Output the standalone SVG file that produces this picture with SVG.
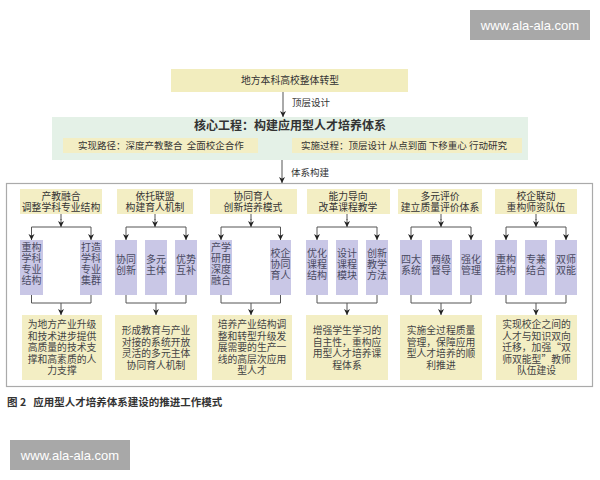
<svg xmlns="http://www.w3.org/2000/svg" width="600" height="480" viewBox="0 0 600 480">
<style>
text{font-family:"Noto Sans CJK SC","Noto Sans",sans-serif;fill:#333;text-anchor:middle}
.y{fill:#f3eec4}
.p{fill:#c9c7e6}
.ln{stroke:#555;stroke-width:1;fill:none}
.h{font-size:9.8px}
.s{font-size:10px;fill:#4a4a62}
.r{font-size:9.8px;fill:#444}
.lb{font-size:9.5px;text-anchor:start}
.cap{font-size:10.5px;font-weight:bold;text-anchor:start}
.wm{font-family:"Liberation Sans",Arial,sans-serif;font-size:13px;fill:#fff}
</style>
<defs>
<marker id="a" viewBox="0 0 10 10" refX="10" refY="5" markerWidth="6" markerHeight="7" markerUnits="userSpaceOnUse" orient="auto">
<path d="M0,0 L10,5 L0,10 L3,5 z" fill="#222"/>
</marker>
</defs>
<rect width="600" height="480" fill="#fff"/>
<g id="watermark-top"><rect x="470" y="10" width="120" height="30" fill="#a8a8a8"/><text class="wm" x="530" y="29.5">www.ala-ala.com</text></g>
<g id="watermark-bottom"><rect x="10" y="440" width="120" height="30" fill="#a8a8a8"/><text class="wm" x="70" y="459.5">www.ala-ala.com</text></g>

<g id="top"><rect x="171" y="69" width="237" height="23" fill="#f2edbe"/><text x="290" y="84" font-size="9.8">地方本科高校整体转型</text></g>

<g id="core">
<rect x="52" y="117" width="476" height="43" fill="#e4f1e7"/>
<text x="290" y="129.5" font-size="12" font-weight="bold">核心工程：构建应用型人才培养体系</text>
<rect class="y" x="63" y="138" width="195" height="15"/>
<text x="161" y="149" font-size="9.5" xml:space="preserve">实现路径：深度产教整合  全面校企合作</text>
<rect class="y" x="292" y="138" width="230" height="15"/>
<text x="404" y="149" font-size="9.5" xml:space="preserve">实施过程：顶层设计 从点到面 下移重心 行动研究</text>
</g>

<g id="frame"><rect x="6.5" y="183.5" width="586" height="203" fill="#fff" stroke="#aaa" stroke-width="1.2"/></g>

<g id="col1">
<rect class="y" x="20" y="189" width="82" height="25"/>
<text class="h" x="61" y="200">产教融合<tspan x="61" dy="11">调整学科专业结构</tspan></text>
<rect class="p" x="20" y="240" width="23" height="55"/>
<text class="s" x="31.5" y="251">重构<tspan x="31.5" dy="11">学科</tspan><tspan x="31.5" dy="11">专业</tspan><tspan x="31.5" dy="11">结构</tspan></text>
<rect class="p" x="80" y="240" width="22" height="55"/>
<text class="s" x="91" y="251">打造<tspan x="91" dy="11">学科</tspan><tspan x="91" dy="11">专业</tspan><tspan x="91" dy="11">集群</tspan></text>
<rect class="y" x="22" y="315" width="80" height="65"/>
<text class="r" x="62" y="328">为地方产业升级<tspan x="62" dy="11.5">和技术进步提供</tspan><tspan x="62" dy="11.5">高质量的技术支</tspan><tspan x="62" dy="11.5">撑和高素质的人</tspan><tspan x="62" dy="11.5">力支撑</tspan></text>
</g>

<g id="col2">
<rect class="y" x="117" y="189" width="76" height="25"/>
<text class="h" x="155" y="200">依托联盟<tspan x="155" dy="11">构建育人机制</tspan></text>
<rect class="p" x="115" y="240" width="22" height="55"/>
<text class="s" x="126" y="263">协同<tspan x="126" dy="11">创新</tspan></text>
<rect class="p" x="145" y="240" width="22" height="55"/>
<text class="s" x="156" y="263">多元<tspan x="156" dy="11">主体</tspan></text>
<rect class="p" x="175" y="240" width="22" height="55"/>
<text class="s" x="186" y="263">优势<tspan x="186" dy="11">互补</tspan></text>
<rect class="y" x="115" y="315" width="82" height="65"/>
<text class="r" x="156" y="334">形成教育与产业<tspan x="156" dy="11.5">对接的系统开放</tspan><tspan x="156" dy="11.5">灵活的多元主体</tspan><tspan x="156" dy="11.5">协同育人机制</tspan></text>
</g>

<g id="col3">
<rect class="y" x="210" y="189" width="87" height="25"/>
<text class="h" x="253" y="200">协同育人<tspan x="253" dy="11">创新培养模式</tspan></text>
<rect class="p" x="210" y="240" width="22" height="55"/>
<text class="s" x="221" y="251">产学<tspan x="221" dy="11">研用</tspan><tspan x="221" dy="11">深度</tspan><tspan x="221" dy="11">融合</tspan></text>
<rect class="p" x="270" y="240" width="21" height="55"/>
<text class="s" x="280.5" y="257">校企<tspan x="280.5" dy="11">协同</tspan><tspan x="280.5" dy="11">育人</tspan></text>
<rect class="y" x="212" y="315" width="80" height="65"/>
<text class="r" x="252" y="328">培养产业结构调<tspan x="252" dy="11.5">整和转型升级发</tspan><tspan x="252" dy="11.5">展需要的生产一</tspan><tspan x="252" dy="11.5">线的高层次应用</tspan><tspan x="252" dy="11.5">型人才</tspan></text>
</g>

<g id="col4">
<rect class="y" x="307" y="189" width="83" height="25"/>
<text class="h" x="348" y="200">能力导向<tspan x="348" dy="11">改革课程教学</tspan></text>
<rect class="p" x="306" y="240" width="22" height="55"/>
<text class="s" x="317" y="257">优化<tspan x="317" dy="11">课程</tspan><tspan x="317" dy="11">结构</tspan></text>
<rect class="p" x="336" y="240" width="22" height="55"/>
<text class="s" x="347" y="257">设计<tspan x="347" dy="11">课程</tspan><tspan x="347" dy="11">模块</tspan></text>
<rect class="p" x="366" y="240" width="22" height="55"/>
<text class="s" x="377" y="257">创新<tspan x="377" dy="11">教学</tspan><tspan x="377" dy="11">方法</tspan></text>
<rect class="y" x="306" y="315" width="82" height="65"/>
<text class="r" x="347" y="334">增强学生学习的<tspan x="347" dy="11.5">自主性，重构应</tspan><tspan x="347" dy="11.5">用型人才培养课</tspan><tspan x="347" dy="11.5">程体系</tspan></text>
</g>

<g id="col5">
<rect class="y" x="398" y="189" width="84" height="25"/>
<text class="h" x="440" y="200">多元评价<tspan x="440" dy="11">建立质量评价体系</tspan></text>
<rect class="p" x="400" y="240" width="22" height="55"/>
<text class="s" x="411" y="263">四大<tspan x="411" dy="11">系统</tspan></text>
<rect class="p" x="430" y="240" width="22" height="55"/>
<text class="s" x="441" y="263">两级<tspan x="441" dy="11">督导</tspan></text>
<rect class="p" x="460" y="240" width="22" height="55"/>
<text class="s" x="471" y="263">强化<tspan x="471" dy="11">管理</tspan></text>
<rect class="y" x="400" y="315" width="82" height="65"/>
<text class="r" x="441" y="334">实施全过程质量<tspan x="441" dy="11.5">管理，保障应用</tspan><tspan x="441" dy="11.5">型人才培养的顺</tspan><tspan x="441" dy="11.5">利推进</tspan></text>
</g>

<g id="col6">
<rect class="y" x="495" y="189" width="82" height="25"/>
<text class="h" x="536" y="200">校企联动<tspan x="536" dy="11">重构师资队伍</tspan></text>
<rect class="p" x="495" y="240" width="22" height="55"/>
<text class="s" x="506" y="263">重构<tspan x="506" dy="11">结构</tspan></text>
<rect class="p" x="525" y="240" width="22" height="55"/>
<text class="s" x="536" y="263">专兼<tspan x="536" dy="11">结合</tspan></text>
<rect class="p" x="555" y="240" width="22" height="55"/>
<text class="s" x="566" y="263">双师<tspan x="566" dy="11">双能</tspan></text>
<rect class="y" x="496" y="315" width="81" height="65"/>
<text class="r" x="536.5" y="328">实现校企之间的<tspan x="536.5" dy="11.5">人才与知识双向</tspan><tspan x="536.5" dy="11.5">迁移，加强“双</tspan><tspan x="536.5" dy="11.5">师双能型”教师</tspan><tspan x="536.5" dy="11.5">队伍建设</tspan></text>
</g>

<g id="connectors">
<line class="ln" x1="283" y1="92" x2="283" y2="117" marker-end="url(#a)"/>
<line class="ln" x1="282" y1="160" x2="282" y2="183" marker-end="url(#a)"/>
<path class="ln" d="M61,214V220 M31.5,227H91"/>
<path class="ln" d="M31.5,295V303H91V295"/>
<path class="ln" d="M155,214V220 M126,227H186"/>
<path class="ln" d="M126,295V303H186V295"/>
<path class="ln" d="M251,214V220 M221,227H280.5"/>
<path class="ln" d="M221,295V303H280.5V295"/>
<path class="ln" d="M347,214V220 M317,227H377"/>
<path class="ln" d="M317,295V303H377V295"/>
<path class="ln" d="M441,214V220 M411,227H471"/>
<path class="ln" d="M411,295V303H471V295"/>
<path class="ln" d="M536,214V220 M506,227H566"/>
<path class="ln" d="M506,295V303H566V295"/>
<g class="ln" marker-end="url(#a)">
<line x1="61" y1="219" x2="61" y2="227"/><line x1="31.5" y1="227" x2="31.5" y2="240"/><line x1="91" y1="227" x2="91" y2="240"/><line x1="61" y1="303" x2="61" y2="315"/>
<line x1="155" y1="219" x2="155" y2="227"/><line x1="126" y1="227" x2="126" y2="240"/><line x1="186" y1="227" x2="186" y2="240"/><line x1="156" y1="303" x2="156" y2="315"/>
<line x1="251" y1="219" x2="251" y2="227"/><line x1="221" y1="227" x2="221" y2="240"/><line x1="280.5" y1="227" x2="280.5" y2="240"/><line x1="251" y1="303" x2="251" y2="315"/>
<line x1="347" y1="219" x2="347" y2="227"/><line x1="317" y1="227" x2="317" y2="240"/><line x1="377" y1="227" x2="377" y2="240"/><line x1="347" y1="303" x2="347" y2="315"/>
<line x1="441" y1="219" x2="441" y2="227"/><line x1="411" y1="227" x2="411" y2="240"/><line x1="471" y1="227" x2="471" y2="240"/><line x1="441" y1="303" x2="441" y2="315"/>
<line x1="536" y1="219" x2="536" y2="227"/><line x1="506" y1="227" x2="506" y2="240"/><line x1="566" y1="227" x2="566" y2="240"/><line x1="536" y1="303" x2="536" y2="315"/>
</g>
<text class="lb" x="292" y="106">顶层设计</text>
<text class="lb" x="291" y="175.5">体系构建</text>
</g>

<text class="cap" x="7" y="406" xml:space="preserve">图 2   应用型人才培养体系建设的推进工作模式</text>
</svg>
